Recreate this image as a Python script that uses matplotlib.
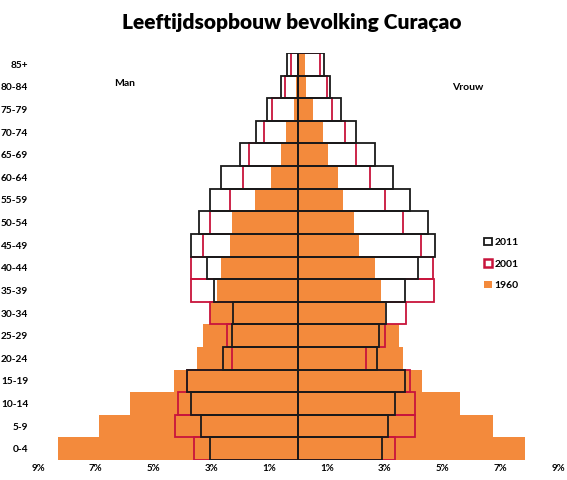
import matplotlib
matplotlib.use("Agg")
from matplotlib import pyplot as plt
from matplotlib.patches import Patch
import numpy as np

plt.rcParams["font.family"] = ["Lato", "DejaVu Sans"]

# age groups, bottom -> top
ages = ["0-4", "5-9", "10-14", "15-19", "20-24", "25-29", "30-34", "35-39",
        "40-44", "45-49", "50-54", "55-59", "60-64", "65-69", "70-74",
        "75-79", "80-84", "85+"]

# share of total population (%)
men_1960 = [8.3, 6.9, 5.8, 4.3, 3.5, 3.3, 3.05, 2.8, 2.65, 2.35, 2.3, 1.5,
            0.95, 0.6, 0.4, 0.15, 0.08, 0.05]
men_2001 = [3.6, 4.25, 4.15, 3.85, 2.3, 2.45, 3.05, 3.7, 3.7, 3.28, 3.05,
            2.34, 1.92, 1.69, 1.17, 0.91, 0.46, 0.23]
men_2011 = [3.05, 3.35, 3.7, 3.85, 2.6, 2.3, 2.25, 2.9, 3.15, 3.7, 3.42,
            3.03, 2.68, 2.01, 1.46, 1.09, 0.6, 0.37]
women_1960 = [7.85, 6.75, 5.6, 4.3, 3.65, 3.5, 3.02, 2.88, 2.68, 2.1, 1.95,
              1.55, 1.38, 1.05, 0.86, 0.51, 0.28, 0.25]
women_2001 = [3.35, 4.05, 4.05, 3.88, 2.34, 3.0, 3.73, 4.71, 4.68, 4.26, 3.65,
              3.0, 2.48, 2.02, 1.62, 1.17, 1.0, 0.77]
women_2011 = [2.92, 3.1, 3.37, 3.71, 2.75, 2.8, 3.05, 3.71, 4.17, 4.74, 4.5,
              3.88, 3.3, 2.65, 2.02, 1.48, 1.12, 0.89]

xticks = [-9, -7, -5, -3, -1, 1, 3, 5, 7, 9]

ORANGE = "#F38A3C"
RED = "#C8143C"
BLACK = "#1a1a1a"

fig = plt.figure(figsize=(5.67, 4.8), dpi=100)
ax = fig.add_axes([38 / 567, 20 / 480, 520 / 567, 407 / 480])

y = np.arange(len(ages))
h = 1.0

# 1960 filled, 2001 and 2011 as outlines on top
ax.barh(y, -np.array(men_1960), height=h, color=ORANGE, linewidth=0, zorder=1)
ax.barh(y, women_1960, height=h, color=ORANGE, linewidth=0, zorder=1)
ax.barh(y, -np.array(men_2001), height=h, fill=False, edgecolor=RED, lw=1.3, zorder=2)
ax.barh(y, women_2001, height=h, fill=False, edgecolor=RED, lw=1.3, zorder=2)
ax.barh(y, -np.array(men_2011), height=h, fill=False, edgecolor=BLACK, lw=1.3, zorder=3)
ax.barh(y, women_2011, height=h, fill=False, edgecolor=BLACK, lw=1.3, zorder=3)

ax.set_xlim(-9, 9)
ax.set_ylim(-0.5, len(ages) - 0.5)
ax.set_yticks(y)
ax.set_yticklabels(ages, fontsize=7.3, fontweight="bold")
ax.set_xticks(xticks)
ax.set_xticklabels([f"{abs(t)}%" for t in xticks], fontsize=7, fontweight="bold")
ax.tick_params(length=0, pad=7)
ax.tick_params(axis="x", pad=3)
for s in ax.spines.values():
    s.set_visible(False)

fig.text(292 / 567, 1 - 22 / 480, "Leeftijdsopbouw bevolking Curaçao",
         ha="center", va="center", fontsize=15, fontweight="heavy")
fig.text(125 / 567, 1 - 83 / 480, "Man", ha="center", va="center",
         fontsize=7.5, fontweight="bold")
fig.text(468 / 567, 1 - 87 / 480, "Vrouw", ha="center", va="center",
         fontsize=7.5, fontweight="bold")

handles = [Patch(facecolor="white", edgecolor=BLACK, lw=1.3, label="2011"),
           Patch(facecolor="white", edgecolor=RED, lw=1.8, label="2001"),
           Patch(facecolor=ORANGE, edgecolor="none", label="1960")]
fig.legend(handles=handles, loc="center left",
           bbox_to_anchor=(475 / 567, 1 - 264 / 480), frameon=False,
           handlelength=0.7, handleheight=0.7, handletextpad=0.25,
           labelspacing=1.2, prop={"size": 7.5, "weight": "bold"})

fig.savefig("out.png", dpi=100)
